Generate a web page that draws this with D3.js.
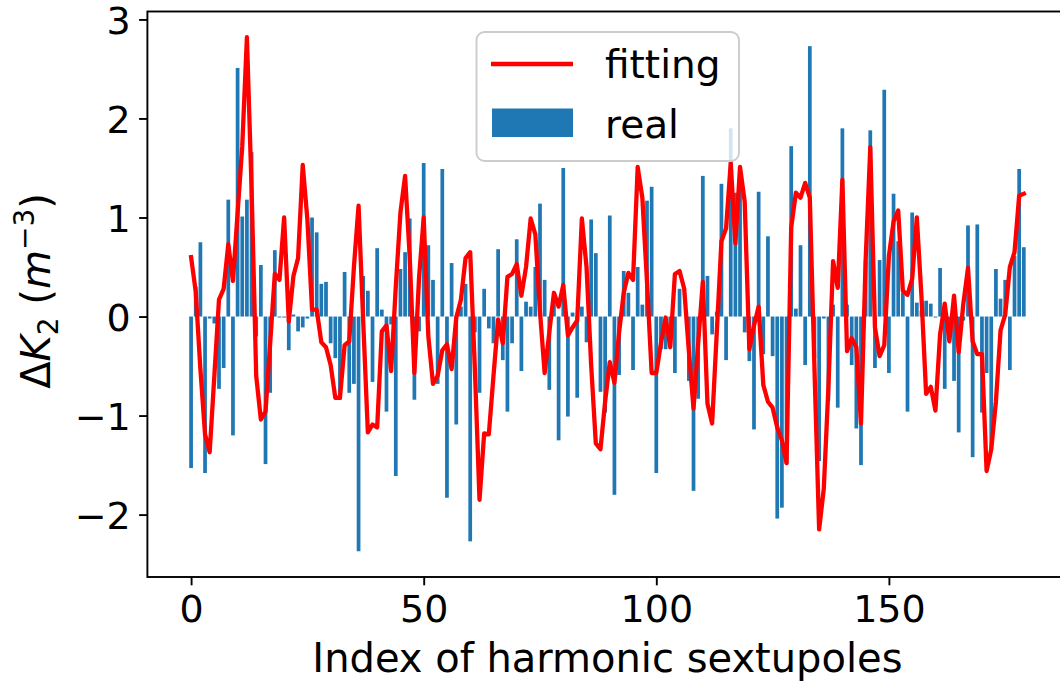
<!DOCTYPE html>
<html><head><meta charset="utf-8">
<script src="https://cdn.jsdelivr.net/npm/d3@7"></script>
<style>html,body{margin:0;padding:0;background:#fff;}svg{display:block;font-family:"DejaVu Sans",sans-serif;}</style>
</head><body>
<svg id="chart" width="1060" height="684"></svg>
<script>
// measured ΔK2 per harmonic sextupole (bars)
const realValues = [
-1.53,0.30,0.75,-1.58,-0.02,-0.07,-0.73,-0.52,1.18,-1.20,
2.51,1.01,1.18,1.66,-0.20,0.52,-1.49,-0.77,0.67,-0.01,
-0.01,-0.34,0.02,-0.15,-0.11,-0.02,1.00,0.85,0.33,0.35,
-0.27,-0.42,-0.84,0.45,-0.77,-0.68,-2.37,0.41,0.26,-0.66,
0.69,0.07,-0.96,-0.08,-1.61,0.48,0.65,0.99,-0.84,-0.15,
1.55,0.72,0.37,-0.68,1.49,-1.83,0.54,-1.09,0.10,0.33,
-2.27,-0.16,-0.77,0.28,-0.12,-0.27,0.68,-0.44,-0.96,-0.27,
0.78,-0.55,0.15,0.10,0.50,1.14,0.37,-0.74,0.20,-1.25,
1.50,-1.01,0.04,-0.82,0.10,-0.26,0.98,0.64,-0.76,-0.97,
1.02,-1.80,-0.59,0.46,0.24,-0.54,0.50,0.12,1.17,1.31,
-1.58,-0.33,-0.33,-0.30,-0.57,0.28,0.00,-0.65,-1.76,-0.83,
1.42,0.41,-0.18,0.05,1.34,-0.44,1.90,1.25,1.45,-0.16,
-0.45,-1.14,1.26,-0.38,0.81,-0.40,-2.04,-1.93,-1.49,1.72,
0.08,0.72,-0.49,2.73,-0.42,-1.46,-0.02,-0.85,0.12,-0.92,
1.90,0.12,-0.49,-1.13,-1.50,0.56,1.88,-0.52,0.57,2.29,
-0.57,1.24,0.76,0.24,-0.96,1.05,0.14,0.06,0.16,0.13,
-0.01,0.49,-0.73,-0.20,-0.65,-1.17,-0.04,0.92,-1.42,0.93,
-0.97,-0.57,-1.35,0.48,0.18,0.37,-0.54,0.61,1.49,0.70
];
// fitted ΔK2 (line)
const fitValues = [
0.60,0.25,-0.53,-1.19,-1.37,-0.60,0.17,0.28,0.73,0.36,
1.05,1.72,2.82,1.30,-0.60,-1.04,-0.96,-0.27,0.43,0.37,
1.00,-0.05,0.41,0.59,1.53,0.98,0.07,0.07,-0.26,-0.31,
-0.49,-0.82,-0.82,-0.29,-0.25,0.50,1.12,-0.05,-1.17,-1.09,
-1.12,-0.15,-0.09,-0.55,0.30,1.05,1.42,0.60,-0.57,0.39,
1.00,-0.20,-0.68,-0.60,-0.34,-0.28,-0.53,-0.01,0.17,0.59,
0.65,-0.53,-1.85,-1.18,-1.19,-0.60,-0.03,-0.27,0.40,0.43,
0.53,0.21,0.50,0.99,0.83,0.05,-0.57,-0.16,0.24,0.10,
0.32,-0.19,-0.11,-0.04,0.99,0.50,-0.49,-1.28,-1.34,-0.86,
-0.46,-0.67,-0.16,0.24,0.44,0.37,1.51,1.20,0.35,-0.57,
-0.57,-0.27,-0.01,-0.31,0.43,0.46,0.28,-0.35,-0.93,-0.27,
0.35,-0.88,-1.08,-0.16,0.76,0.89,1.55,0.74,1.51,1.16,
-0.33,-0.09,0.10,-0.69,-0.86,-0.92,-1.12,-1.25,-1.48,0.90,
1.25,1.20,1.35,1.20,-0.53,-2.15,-1.74,-0.71,0.56,0.29,
1.38,-0.35,-0.22,-0.31,-1.08,0.57,1.71,-0.11,-0.40,-0.29,
0.61,0.96,1.07,0.26,0.22,0.38,1.00,0.20,-0.78,-0.71,
-0.95,-0.18,0.13,-0.25,0.21,-0.36,0.13,0.49,-0.25,-0.38,
-0.38,-1.56,-1.34,-0.86,-0.14,0.02,0.50,0.65,1.22,1.24
];
const xTicks = [0, 50, 100, 150];
const yTicks = [-2, -1, 0, 1, 2, 3];
const legendLabels = ["fitting", "real"];
const xLabel = "Index of harmonic sextupoles";

const indices = realValues.map((_, i) => i);
const svg = d3.select("#chart");
const pLeft = 147.4, pRight = 1067.5, pTop = 11.5, pBottom = 577;
const barW = 0.8;
const span = indices.length - 1 + barW;
const xMin = -barW/2 - 0.05*span;
const xMax = indices.length - 1 + barW/2 + 0.05*span;
const x = d3.scaleLinear().domain([xMin, xMax]).range([pLeft, pRight]);
const y = d3.scaleLinear().domain([-2.63, 3.08]).range([pBottom, pTop]);
const blue = "#1f77b4";

const plot = svg.append("g");
plot.selectAll("rect.bar").data(indices).join("rect")
  .attr("class","bar")
  .attr("x", i => x(i - barW/2))
  .attr("width", i => x(i + barW/2) - x(i - barW/2))
  .attr("y", i => y(Math.max(0, realValues[i])))
  .attr("height", i => Math.abs(y(realValues[i]) - y(0)))
  .attr("fill", blue);
const line = d3.line().x(i => x(i)).y(i => y(fitValues[i]));
plot.append("path").datum(indices).attr("d", line)
  .attr("fill","none").attr("stroke","#ff0000").attr("stroke-width",4.3)
  .attr("stroke-linejoin","round").attr("stroke-linecap","square");

const tickLen = 8.3, fs = 38;
const xAxis = d3.axisBottom(x).tickValues(xTicks).tickSize(tickLen).tickPadding(8.3).tickFormat(d3.format("d"));
const gx = svg.append("g").attr("transform", `translate(0,${pBottom})`).call(xAxis);
const minusFmt = d => (d < 0 ? "\u2212" + Math.abs(d) : String(d));
const yAxis = d3.axisLeft(y).tickValues(yTicks).tickSize(tickLen).tickPadding(8.3).tickFormat(minusFmt);
const gy = svg.append("g").attr("transform", `translate(${pLeft},0)`).call(yAxis);
[gx, gy].forEach(g => {
  g.select(".domain").remove();
  g.selectAll(".tick line").attr("stroke","#000").attr("stroke-width",1.9);
  g.selectAll(".tick text").attr("font-size", fs).attr("font-family","DejaVu Sans").attr("fill","#000");
});
gx.selectAll(".tick text").attr("dy", "0.76em").attr("y", tickLen + 8.3);
gy.selectAll(".tick text").attr("dy","0.36em");

svg.append("rect").attr("x", pLeft).attr("y", pTop).attr("width", pRight - pLeft).attr("height", pBottom - pTop)
  .attr("fill","none").attr("stroke","#000").attr("stroke-width",1.9);

svg.append("text").attr("x", (pLeft + pRight)/2).attr("y", 672).attr("text-anchor","middle")
  .attr("font-size", 40).text(xLabel);

const yl = svg.append("text").attr("transform","translate(50,291) rotate(-90)")
  .attr("text-anchor","middle").attr("font-size",40);
yl.append("tspan").text("\u0394");
yl.append("tspan").attr("font-style","italic").text("K");
yl.append("tspan").attr("font-size",28).attr("dy",8).text("2");
yl.append("tspan").attr("dy",-8).text(" (");
yl.append("tspan").attr("font-style","italic").text("m");
yl.append("tspan").attr("font-size",28).attr("dy",-16).text("\u22123");
yl.append("tspan").attr("dy",16).text(")");

const lg = svg.append("g");
lg.append("rect").attr("x",476.5).attr("y",32).attr("width",262.5).attr("height",129).attr("rx",8)
  .attr("fill","#fff").attr("fill-opacity",0.8).attr("stroke","#cccccc").attr("stroke-width",1.9);
lg.append("line").attr("x1",491).attr("x2",573).attr("y1",64).attr("y2",64)
  .attr("stroke","#ff0000").attr("stroke-width",4.3);
lg.append("rect").attr("x",492).attr("y",108.5).attr("width",81).attr("height",28.5).attr("fill",blue);
lg.selectAll("text.lt").data(legendLabels).join("text").attr("class","lt")
  .attr("x",605).attr("y",(d,i)=> i===0 ? 78 : 137.5).attr("font-size",39).text(d=>d);
</script>
</body></html>
